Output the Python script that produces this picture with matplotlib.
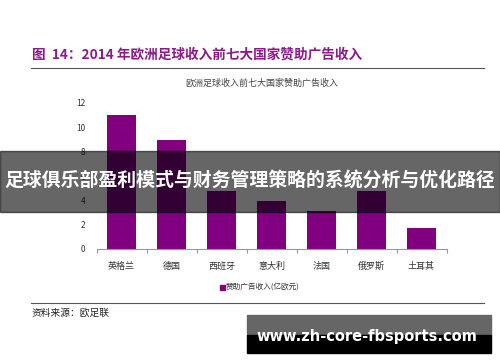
import matplotlib
matplotlib.use('Agg')
import matplotlib.pyplot as plt
from matplotlib.patches import Rectangle
import numpy as np

plt.rcParams['font.family'] = ['Noto Sans CJK SC', 'DejaVu Sans']

paises = ['英格兰', '德国', '西班牙', '意大利', '法国', '俄罗斯', '土耳其']
ingresos = [11.0, 9.0, 4.8, 3.95, 3.15, 4.8, 1.75]  # 亿欧元
yticks = [0, 2, 4, 6, 8, 10, 12]

W, H = 500, 362
fig = plt.figure(figsize=(W / 100, H / 100), dpi=100)

def fx(px):
    return px / W

def fy(py):
    return 1 - py / H

ax = fig.add_axes([fx(96.5), fy(249), fx(350), 146 / H])
x = np.arange(len(paises))
ax.bar(x, ingresos, width=0.58, color='#800080', label='赞助广告收入(亿欧元)')
ax.set_xlim(-0.5, len(paises) - 0.5)
ax.set_ylim(0, 12)
ax.set_yticks(yticks)
ax.tick_params(axis='y', length=0, labelsize=6, colors='#333333', pad=8)
ax.set_xticks(np.arange(-0.5, len(paises), 1.0))
ax.set_xticklabels([])
ax.tick_params(axis='x', which='major', length=3, color='#999999', direction='out')
ax.set_xticks(x, minor=True)
ax.set_xticklabels(paises, minor=True)
ax.tick_params(axis='x', which='minor', length=0, labelsize=6.5, colors='#333333', pad=9)
for s in ['top', 'right', 'left']:
    ax.spines[s].set_visible(False)
ax.spines['bottom'].set_color('#999999')

# leyenda
fig.patches.append(Rectangle((fx(220), fy(289.5)), fx(4.5), 4.5 / H, color='#800080',
                             transform=fig.transFigure, figure=fig))
fig.text(fx(226), fy(287), '赞助广告收入(亿欧元)', fontsize=5.5, va='center', ha='left', color='#333333')

# titulos
fig.text(fx(32), fy(54), '图  14：2014 年欧洲足球收入前七大国家赞助广告收入', fontsize=9.8,
         fontweight='bold', color='#8a1a8a', va='center', ha='left')
fig.add_artist(plt.Line2D([fx(31), fx(484)], [fy(68), fy(68)], color='#555555', lw=0.8))
fig.text(fx(262), fy(83), '欧洲足球收入前七大国家赞助广告收入', fontsize=6.5, color='#444444',
         va='center', ha='center')

# fuente
fig.add_artist(plt.Line2D([fx(31), fx(484)], [fy(303), fy(303)], color='#555555', lw=0.8))
fig.text(fx(32), fy(313), '资料来源：欧足联', fontsize=7, color='#222222', va='center', ha='left')

# banda superpuesta
fig.patches.append(Rectangle((0, fy(212)), 1, 61 / H, color='black', alpha=0.6,
                             transform=fig.transFigure, figure=fig, zorder=5))
fig.text(0.5, fy(181), '足球俱乐部盈利模式与财务管理策略的系统分析与优化路径', fontsize=13.6,
         fontweight='bold', color='white', va='center', ha='center', zorder=6)

# marca de agua
fig.patches.append(Rectangle((fx(247), fy(335)), fx(244), 20 / H, color='#666666',
                             transform=fig.transFigure, figure=fig, zorder=5))
fig.patches.append(Rectangle((fx(247), fy(353)), fx(244), 18 / H, color='black',
                             transform=fig.transFigure, figure=fig, zorder=5))
fig.text(fx(367), fy(337), 'www.zh-core-fbsports.com', fontsize=10.5, fontweight='bold',
         color='white', va='center', ha='center', family='DejaVu Sans', zorder=6)

fig.savefig('out.png', dpi=100)
